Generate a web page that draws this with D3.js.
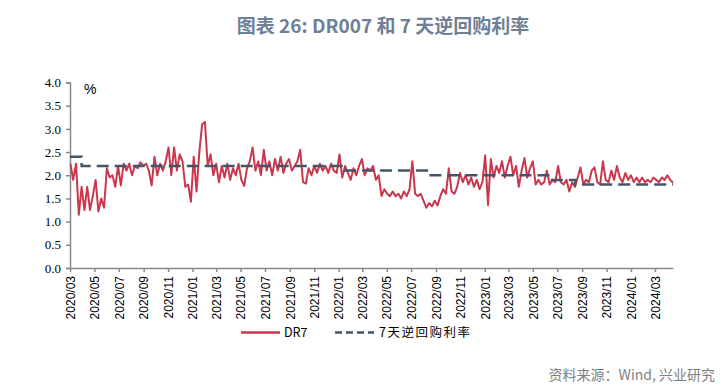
<html>
<head>
	<meta http-equiv="Content-Type" content="text/html; charset=utf-8" />
	<script src="https://cdn.jsdelivr.net/npm/d3@7/dist/d3.min.js" charset="utf-8"></script>

	<style type="text/css">
	body {
		background-color: #FFFFFF;
		margin: 0;
	}
	</style>
</head>
<body>

	<svg width="724" height="391" version="1.1" xmlns="http://www.w3.org/2000/svg"></svg>

	<script type="text/javascript">
		/* 数据 */
		var v_Title     = "图表 26: DR007 和 7 天逆回购利率";
		var v_Source    = "资料来源：Wind, 兴业研究";
		var v_Names     = ["DR7" ,"7天逆回购利率"];

		/* DR007：每周一个点，自 2020-03-02 起 */
		var v_DRStart   = "2020-03-02";
		var v_DRValues  = [
			2.25, 1.9, 2.25, 1.15, 1.75, 1.25, 1.75, 1.25, 1.55, 1.9,
			1.22, 1.5, 1.3, 2.15, 1.95, 2.0, 1.75, 2.2, 1.78, 2.25,
			2.1, 2.25, 2.0, 2.2, 2.15, 2.28, 2.2, 2.25, 2.1, 1.78,
			2.4, 2.0, 2.25, 2.1, 2.3, 2.6, 2.0, 2.6, 2.1, 2.45,
			2.3, 1.75, 1.8, 1.43, 2.4, 1.65, 2.5, 3.1, 3.15, 2.2,
			2.45, 2.0, 2.25, 1.85, 2.2, 1.95, 2.25, 1.9, 2.15, 2.0,
			2.25, 1.9, 1.77, 2.15, 2.3, 2.6, 2.1, 2.3, 2.0, 2.55,
			2.1, 2.3, 2.0, 2.35, 2.1, 2.4, 2.05, 2.25, 2.35, 2.1,
			2.2, 2.3, 2.55, 1.85, 1.82, 2.15, 2.0, 2.2, 2.05, 2.25,
			2.1, 2.2, 2.05, 2.25, 2.1, 2.05, 2.45, 1.95, 2.2, 2.05,
			1.9, 2.15, 2.0, 2.2, 2.35, 2.0, 2.15, 2.1, 2.2, 1.9,
			2.0, 1.55, 1.7, 1.6, 1.55, 1.65, 1.55, 1.6, 1.5, 1.65,
			1.55, 1.7, 2.3, 1.6, 1.55, 1.6, 1.45, 1.3, 1.4, 1.33,
			1.45, 1.35, 1.55, 1.7, 1.6, 2.15, 1.65, 1.6, 1.75, 2.05,
			1.85, 2.0, 1.8, 1.95, 1.75, 1.9, 1.7, 1.85, 2.43, 1.36,
			2.35, 1.95, 2.2, 2.05, 2.3, 1.95, 2.2, 2.4, 2.0, 2.2,
			1.75, 2.1, 2.37, 1.95, 2.15, 2.3, 1.8, 1.9, 1.8, 1.85,
			2.1, 1.8, 1.9, 1.85, 2.2, 1.85, 1.8, 1.9, 1.65, 1.85,
			1.75, 1.95, 2.17, 1.8, 1.9, 1.85, 2.1, 2.17, 1.85, 1.8,
			2.3, 1.9, 1.85, 2.1, 1.9, 2.2, 1.95, 1.85, 2.05, 1.9,
			2.0, 1.85, 1.95, 1.85, 1.95, 1.85, 1.9, 1.85, 1.95, 1.9,
			1.85, 1.95, 1.9, 2.0, 1.9, 1.84
		];

		/* 7天逆回购利率：调整日期 */
		var v_RepoDates  = ["2020-03-01" ,"2020-03-30" ,"2022-01-17" ,"2022-08-15" ,"2023-06-13" ,"2023-08-15" ,"2024-04-15"];
		var v_RepoValues = [2.40 ,2.20 ,2.10 ,2.00 ,1.90 ,1.80 ,1.80];

		var v_XStart    = "2020-03-01";
		var v_XEnd      = "2024-04-15";
		var v_YTicks    = [0 ,0.5 ,1.0 ,1.5 ,2.0 ,2.5 ,3.0 ,3.5 ,4.0];


		var v_Parse  = d3.timeParse("%Y-%m-%d");
		var v_Format = d3.timeFormat("%Y/%m");

		var v_DRDays = d3.range(v_DRValues.length).map(function(i)
		{
			return d3.timeDay.offset(v_Parse(v_DRStart) ,7 * i);
		});

		var v_DRData = v_DRValues.map(function(v ,i)
		{
			return [v_DRDays[i] ,v];
		});

		var v_RepoData = v_RepoValues.map(function(v ,i)
		{
			return [v_Parse(v_RepoDates[i]) ,v];
		});


		var v_SVG = d3.select("body").select("svg");

		var v_X = d3.scaleTime()
		.domain([v_Parse(v_XStart) ,v_Parse(v_XEnd)])
		.range([70 ,673]);

		var v_Y = d3.scaleLinear()
		.domain([0 ,4])
		.range([268 ,82.5]);


		/* 标题 */
		v_SVG.append("text")
		.attr("x" ,383)
		.attr("y" ,33)
		.attr("text-anchor" ,"middle")
		.attr("font-family" ,"'Noto Sans CJK SC', sans-serif")
		.attr("font-size" ,"19px")
		.attr("font-weight" ,"bold")
		.attr("fill" ,"#6E7F96")
		.text(v_Title);


		/* Y轴 */
		var v_YAxis = v_SVG.append("g")
		.attr("transform" ,"translate(70,0)")
		.call(d3.axisLeft(v_Y).tickValues(v_YTicks).tickSize(4).tickPadding(5).tickFormat(d3.format(".1f")));

		v_YAxis.select(".domain").attr("stroke" ,"#898989").attr("stroke-width" ,"1.5");
		v_YAxis.selectAll(".tick line").attr("stroke" ,"#898989").attr("stroke-width" ,"1.5");
		v_YAxis.selectAll(".tick text")
		.attr("font-family" ,"'Liberation Serif', serif")
		.attr("font-size" ,"13px")
		.attr("fill" ,"#000000");


		/* X轴 */
		var v_XTicks = d3.timeMonth.every(2).range(v_Parse(v_XStart) ,v_Parse(v_XEnd));

		var v_XAxis = v_SVG.append("g")
		.attr("transform" ,"translate(0,268)")
		.call(d3.axisBottom(v_X).tickValues(v_XTicks).tickSize(4).tickSizeOuter(0).tickFormat(v_Format));

		v_XAxis.select(".domain").attr("stroke" ,"#898989").attr("stroke-width" ,"1.5");
		v_XAxis.selectAll(".tick line").attr("stroke" ,"#898989").attr("stroke-width" ,"1.5");
		v_XAxis.selectAll(".tick text")
		.attr("font-family" ,"'Liberation Sans', Arial, sans-serif")
		.attr("font-size" ,"12px")
		.attr("fill" ,"#000000")
		.attr("text-anchor" ,"end")
		.attr("transform" ,"rotate(-90)")
		.attr("x" ,-8)
		.attr("y" ,0)
		.attr("dy" ,"0.35em");


		/* 单位 */
		v_SVG.append("text")
		.attr("x" ,84)
		.attr("y" ,94)
		.attr("font-family" ,"'Liberation Sans', Arial, sans-serif")
		.attr("font-size" ,"14px")
		.attr("fill" ,"#000000")
		.text("%");


		var v_LineGenerator = d3.line()
		.x(function(d)
		{
			return v_X(d[0]);
		})
		.y(function(d)
		{
			return v_Y(d[1]);
		});

		v_SVG.append("path")
		.attr("d" ,v_LineGenerator(v_DRData))
		.attr("fill" ,"none")
		.attr("stroke" ,"#C9384D")
		.attr("stroke-width" ,"2")
		.attr("stroke-linejoin" ,"round");

		v_SVG.append("path")
		.attr("d" ,v_LineGenerator.curve(d3.curveStepAfter)(v_RepoData))
		.attr("fill" ,"none")
		.attr("stroke" ,"#44546A")
		.attr("stroke-width" ,"2.5")
		.attr("stroke-dasharray" ,"12,6");


		/* 图例 */
		v_SVG.append("line")
		.attr("x1" ,241).attr("y1" ,332.5)
		.attr("x2" ,280).attr("y2" ,332.5)
		.attr("stroke" ,"#C9384D")
		.attr("stroke-width" ,"2.5");

		v_SVG.append("text")
		.attr("x" ,284)
		.attr("y" ,337)
		.attr("font-family" ,"'Noto Sans CJK SC', sans-serif")
		.attr("font-size" ,"12.5px")
		.attr("fill" ,"#000000")
		.text(v_Names[0]);

		v_SVG.append("line")
		.attr("x1" ,335).attr("y1" ,332.5)
		.attr("x2" ,374).attr("y2" ,332.5)
		.attr("stroke" ,"#44546A")
		.attr("stroke-width" ,"2.5")
		.attr("stroke-dasharray" ,"7,4");

		v_SVG.append("text")
		.attr("x" ,379)
		.attr("y" ,337)
		.attr("font-family" ,"'Noto Sans CJK SC', sans-serif")
		.attr("font-size" ,"12.5px")
		.attr("letter-spacing" ,"1.5px")
		.attr("fill" ,"#000000")
		.text(v_Names[1]);


		/* 资料来源 */
		v_SVG.append("text")
		.attr("x" ,715)
		.attr("y" ,380)
		.attr("text-anchor" ,"end")
		.attr("font-family" ,"'Noto Sans CJK SC', sans-serif")
		.attr("font-size" ,"14px")
		.attr("fill" ,"#7F7F7F")
		.text(v_Source);
	</script>

</body>
</html>
